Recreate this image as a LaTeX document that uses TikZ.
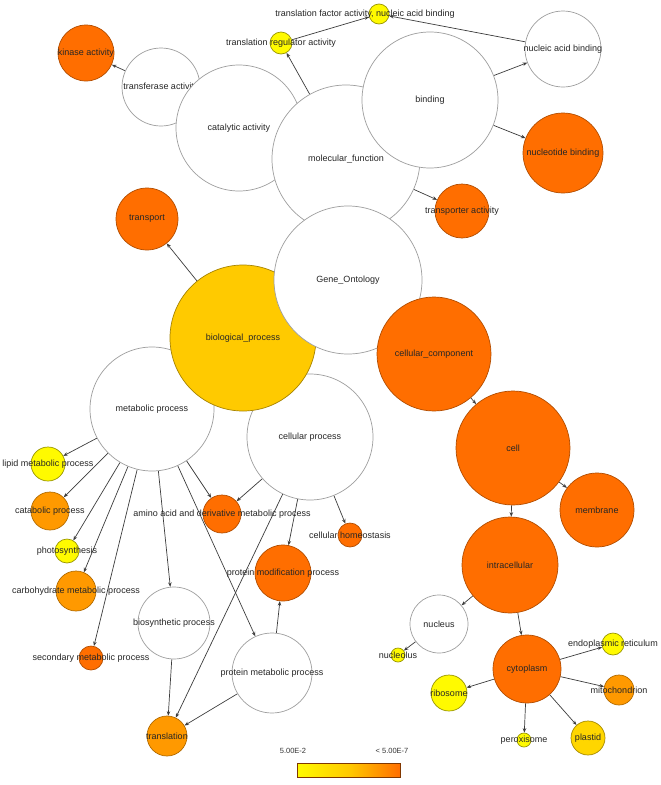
\documentclass[tikz,border=0pt]{standalone}
\usepackage{fontspec}
\setmainfont{Liberation Sans}
\usetikzlibrary{arrows.meta,backgrounds}
\definecolor{cOr}{RGB}{255,110,0}
\definecolor{cLOr}{RGB}{255,153,0}
\definecolor{cGold}{RGB}{255,202,0}
\definecolor{cPl}{RGB}{255,214,0}
\definecolor{cYe}{RGB}{255,250,0}
\definecolor{cEdge}{RGB}{60,60,60}
\tikzset{
  gobase/.style={circle, inner sep=0pt, line width=0.7pt},
  wnode/.style={gobase, fill=white, draw=black!38},
  onode/.style={gobase, fill=cOr, draw=cOr!70!black},
  lonode/.style={gobase, fill=cLOr, draw=cLOr!70!black},
  bpnode/.style={gobase, fill=cGold, draw=cGold!65!black},
  plnode/.style={gobase, fill=cPl, draw=cPl!65!black},
  ynode/.style={gobase, fill=cYe, draw=cYe!60!black},
  lbl/.style={font=\fontsize{9}{10}\selectfont, text=black!85, inner sep=0pt},
  legtxt/.style={font=\fontsize{7.5}{9}\selectfont, text=black!80, inner sep=0pt},
  goedge/.style={draw=cEdge, line width=0.7pt, -{Stealth[length=4.5pt,width=3.5pt]}},
}
\newcommand\GOnode[6]{\node[#5, minimum size=2*#4pt] (#1) at (#2,#3) {};\node[lbl] at (#1) {#6};}
\begin{document}
\begin{tikzpicture}[x=1pt,y=-1pt]
\useasboundingbox (0,0) rectangle (661,785);
% molecular function branch
\GOnode{kinase}{86}{53}{28}{onode}{kinase activity}
\GOnode{transferase}{161}{87}{39}{wnode}{transferase activity}
\GOnode{catalytic}{239}{128}{63}{wnode}{catalytic activity}
\GOnode{regulator}{281}{43}{11}{ynode}{translation regulator activity}
\node[ynode, minimum size=20pt] (factor) at (379,14) {};
\node[lbl] (factorlbl) at (365,14) {translation factor activity, nucleic acid binding};
\GOnode{nucleicab}{563}{49}{38}{wnode}{nucleic acid binding}
\GOnode{molfun}{346}{159}{74}{wnode}{molecular\_function}
\GOnode{binding}{430}{100}{68}{wnode}{binding}
\GOnode{nucleotide}{563}{153}{40}{onode}{nucleotide binding}
\GOnode{transporter}{462}{211}{27}{onode}{transporter activity}
\GOnode{transport}{147}{219}{31}{onode}{transport}
% biological process branch
\GOnode{metab}{152}{409}{62}{wnode}{metabolic process}
\GOnode{cellproc}{310}{437}{63}{wnode}{cellular process}
\GOnode{bioproc}{243}{338}{73}{bpnode}{biological\_process}
\GOnode{geneont}{348}{280}{74}{wnode}{Gene\_Ontology}
\GOnode{lipid}{48}{464}{17}{ynode}{lipid metabolic process}
\GOnode{catabolic}{50}{511}{19}{lonode}{catabolic process}
\GOnode{photo}{67}{551}{12}{ynode}{photosynthesis}
\GOnode{carbo}{76}{591}{20}{lonode}{carbohydrate metabolic process}
\GOnode{secondary}{91}{658}{12}{onode}{secondary metabolic process}
\GOnode{biosyn}{174}{623}{36}{wnode}{biosynthetic process}
\GOnode{protmet}{272}{673}{40}{wnode}{protein metabolic process}
\GOnode{translation}{167}{736}{20}{lonode}{translation}
\GOnode{protmod}{283}{573}{28}{onode}{protein modification process}
\GOnode{amino}{222}{514}{19}{onode}{amino acid and derivative metabolic process}
\GOnode{homeo}{350}{535}{12}{onode}{cellular homeostasis}
% cellular component branch
\GOnode{cellcomp}{434}{354}{57}{onode}{cellular\_component}
\GOnode{cell}{513}{448}{57}{onode}{cell}
\GOnode{membrane}{597}{510}{37}{onode}{membrane}
\GOnode{intracell}{510}{565}{48}{onode}{intracellular}
\GOnode{nucleus}{439}{624}{29}{wnode}{nucleus}
\GOnode{nucleolus}{398}{655}{7}{ynode}{nucleolus}
\GOnode{cytoplasm}{527}{669}{34}{onode}{cytoplasm}
\GOnode{er}{613}{644}{11}{ynode}{endoplasmic reticulum}
\GOnode{mito}{619}{690}{15}{lonode}{mitochondrion}
\GOnode{ribosome}{449}{693}{18}{ynode}{ribosome}
\GOnode{peroxisome}{524}{740}{7}{ynode}{peroxisome}
\GOnode{plastid}{588}{738}{17}{plnode}{plastid}
% connectors
\begin{scope}[on background layer]
\fill[white] (0,0) rectangle (661,785);
\draw[goedge] (transferase) -- (kinase);
\draw[goedge] (molfun) -- (regulator);
\draw[goedge] (regulator) -- (factor);
\draw[goedge] (nucleicab) -- (factor);
\draw[goedge] (binding) -- (nucleicab);
\draw[goedge] (binding) -- (nucleotide);
\draw[goedge] (molfun) -- (transporter);
\draw[goedge] (bioproc) -- (transport);
\foreach \t in {lipid,catabolic,photo,carbo,secondary,biosyn,protmet,amino}
  \draw[goedge] (metab) -- (\t);
\foreach \t in {amino,translation,protmod,homeo}
  \draw[goedge] (cellproc) -- (\t);
\draw[goedge] (biosyn) -- (translation);
\draw[goedge] (protmet) -- (translation);
\draw[goedge] (protmet) -- (protmod);
\draw[goedge] (cellcomp) -- (cell);
\draw[goedge] (cell) -- (membrane);
\draw[goedge] (cell) -- (intracell);
\draw[goedge] (intracell) -- (nucleus);
\draw[goedge] (intracell) -- (cytoplasm);
\draw[goedge] (nucleus) -- (nucleolus);
\foreach \t in {er,mito,plastid,peroxisome,ribosome}
  \draw[goedge] (cytoplasm) -- (\t);
\end{scope}
% legend
\node[legtxt] (legmin) at (293,751) {5.00E-2};
\node[legtxt] (legmax) at (392,751) {< 5.00E-7};
\shade[left color=cYe, right color=cOr, middle color=cGold] (297,763) rectangle (400,777);
\draw[draw=cOr!50!black, line width=0.8pt] (297,763) rectangle (400,777);
\end{tikzpicture}
\end{document}
